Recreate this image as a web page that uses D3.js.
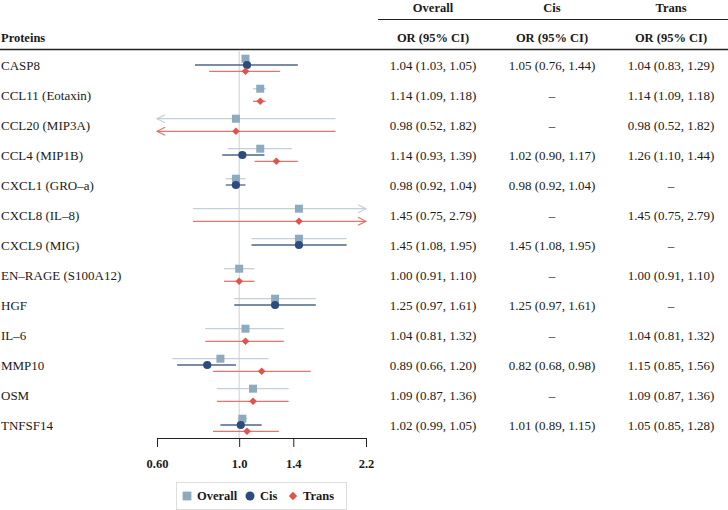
<!DOCTYPE html>
<html>
<head>
<meta charset="utf-8">
<script src="https://cdn.jsdelivr.net/npm/d3@7"></script>
<style>
  body { margin: 0; background: #fff; }
  text { font-family: "Liberation Serif", "DejaVu Serif", serif; fill: #1a1a1a; }
</style>
</head>
<body>
<div id="forest"></div>
<script>
let proteins = ["CASP8","CCL11 (Eotaxin)","CCL20 (MIP3A)","CCL4 (MIP1B)","CXCL1 (GRO\u2013a)",
  "CXCL8 (IL\u20138)","CXCL9 (MIG)","EN\u2013RAGE (S100A12)","HGF","IL\u20136","MMP10","OSM","TNFSF14"];

let overallOR = [1.04, 1.14, 0.98, 1.14, 0.98, 1.45, 1.45, 1.00, 1.25, 1.04, 0.89, 1.09, 1.02];
let overallLo = [1.03, 1.09, 0.52, 0.93, 0.92, 0.75, 1.08, 0.91, 0.97, 0.81, 0.66, 0.87, 0.99];
let overallHi = [1.05, 1.18, 1.82, 1.39, 1.04, 2.79, 1.95, 1.10, 1.61, 1.32, 1.20, 1.36, 1.05];

let cisOR = [1.05, null, null, 1.02, 0.98, null, 1.45, null, 1.25, null, 0.82, null, 1.01];
let cisLo = [0.76, null, null, 0.90, 0.92, null, 1.08, null, 0.97, null, 0.68, null, 0.89];
let cisHi = [1.44, null, null, 1.17, 1.04, null, 1.95, null, 1.61, null, 0.98, null, 1.15];

let transOR = [1.04, 1.14, 0.98, 1.26, null, 1.45, null, 1.00, null, 1.04, 1.15, 1.09, 1.05];
let transLo = [0.83, 1.09, 0.52, 1.10, null, 0.75, null, 0.91, null, 0.81, 0.85, 0.87, 0.85];
let transHi = [1.29, 1.18, 1.82, 1.44, null, 2.79, null, 1.10, null, 1.32, 1.56, 1.36, 1.28];

let tickValues = [0.60, 1.0, 1.4, 2.2];
let tickLabels = ["0.60", "1.0", "1.4", "2.2"];
let groups = ["Overall", "Cis", "Trans"];

let width = 728, height = 510;

let series = [
  {name: "Overall", or: overallOR, lo: overallLo, hi: overallHi, dy: -6.3, mark: "square", fill: "#8eaabf", line: "#c3cfd9"},
  {name: "Cis", or: cisOR, lo: cisLo, hi: cisHi, dy: 0, mark: "circle", fill: "#2d4b7e", line: "#4e6486"},
  {name: "Trans", or: transOR, lo: transLo, hi: transHi, dy: 6.3, mark: "diamond", fill: "#e0544b", line: "#e8736c"}
];

// draws a marker of the given kind centred on 0,0
function drawMark(sel, kind, scale) {
  if (kind == "square") {
    return sel.append("rect").attr("x", -4 * scale).attr("y", -4 * scale)
      .attr("width", 8 * scale).attr("height", 8 * scale);
  } else if (kind == "circle") {
    return sel.append("circle").attr("r", 4.1 * scale);
  }
  return sel.append("rect").attr("x", -2.7 * scale).attr("y", -2.7 * scale)
    .attr("width", 5.4 * scale).attr("height", 5.4 * scale)
    .attr("transform", "rotate(45)");
}

let x = d3.scaleLog()
  .domain([0.60, 2.2])
  .range([157, 366]);

let y = d3.scaleBand()
  .domain(proteins)
  .range([50, 440]);

let col = d3.scalePoint()
  .domain(groups)
  .range([433, 671]);

let fmt = d3.format(".2f");

let svg = d3.select("#forest").append("svg")
  .attr("width", width)
  .attr("height", height);

// header
svg.append("line")
  .attr("x1", 378).attr("x2", width)
  .attr("y1", 19.5).attr("y2", 19.5)
  .style("stroke", "#222").style("stroke-width", 1);

svg.append("line")
  .attr("x1", 0).attr("x2", width)
  .attr("y1", 49.5).attr("y2", 49.5)
  .style("stroke", "#222").style("stroke-width", 1.3);

svg.append("text")
  .attr("x", 1).attr("y", 42)
  .style("font-size", "12.5px").style("font-weight", "bold")
  .text("Proteins");

svg.selectAll(".grp")
  .data(groups)
  .enter()
  .append("text")
  .attr("x", d => col(d))
  .attr("y", 12)
  .attr("text-anchor", "middle")
  .style("font-size", "12.5px").style("font-weight", "bold")
  .text(d => d);

svg.selectAll(".orhead")
  .data(groups)
  .enter()
  .append("text")
  .attr("x", d => col(d))
  .attr("y", 42)
  .attr("text-anchor", "middle")
  .style("font-size", "12.5px").style("font-weight", "bold")
  .text("OR (95% CI)");

// reference line at 1
svg.append("line")
  .attr("x1", x(1)).attr("x2", x(1))
  .attr("y1", 50).attr("y2", 438)
  .style("stroke", "#cfcfcf").style("stroke-width", 1);

// protein labels
svg.selectAll(".prot")
  .data(proteins)
  .enter()
  .append("text")
  .attr("x", 1)
  .attr("y", d => y(d) + y.bandwidth() / 2 + 4.5)
  .style("font-size", "13px")
  .text(d => d);

// table values
series.forEach(s => {
  svg.selectAll(".val-" + s.name)
    .data(proteins)
    .enter()
    .append("text")
    .attr("x", col(s.name))
    .attr("y", d => y(d) + y.bandwidth() / 2 + 4.5)
    .attr("text-anchor", "middle")
    .style("font-size", "13px")
    .text((d, i) => s.or[i] == null ? "\u2013"
      : fmt(s.or[i]) + " (" + fmt(s.lo[i]) + ", " + fmt(s.hi[i]) + ")");
});

// arrow markers
series.forEach(s => {
  let defs = svg.append("defs");
  defs.append("marker")
    .attr("id", "arr-" + s.name)
    .attr("viewBox", "0 0 10 10")
    .attr("refX", 9).attr("refY", 5)
    .attr("markerWidth", 10).attr("markerHeight", 10)
    .attr("markerUnits", "userSpaceOnUse")
    .attr("orient", "auto-start-reverse")
    .append("path")
    .attr("d", "M1,1 L9,5 L1,9")
    .style("fill", "none")
    .style("stroke", s.line)
    .style("stroke-width", 1.2);
});

let [dMin, dMax] = x.domain();

series.forEach(s => {
  let rows = proteins.map((p, i) => ({p: p, or: s.or[i], lo: s.lo[i], hi: s.hi[i]}))
    .filter(d => d.or != null);

  svg.selectAll(".ci-" + s.name)
    .data(rows)
    .enter()
    .append("line")
    .attr("x1", d => x(Math.max(d.lo, dMin)))
    .attr("x2", d => x(Math.min(d.hi, dMax)))
    .attr("y1", d => y(d.p) + y.bandwidth() / 2 + s.dy)
    .attr("y2", d => y(d.p) + y.bandwidth() / 2 + s.dy)
    .attr("marker-start", d => d.lo < dMin ? "url(#arr-" + s.name + ")" : null)
    .attr("marker-end", d => d.hi > dMax ? "url(#arr-" + s.name + ")" : null)
    .style("stroke", s.line)
    .style("stroke-width", 1.3);

  svg.selectAll(".pt-" + s.name)
    .data(rows)
    .enter()
    .append("g")
    .attr("transform", d => "translate(" + x(d.or) + "," + (y(d.p) + y.bandwidth() / 2 + s.dy) + ")")
    .each(function() {
      drawMark(d3.select(this), s.mark, 1).style("fill", s.fill);
    });
});

// axis: line on top, ticks hanging down
let axis = d3.axisBottom(x)
  .tickValues(tickValues)
  .tickFormat((d, i) => tickLabels[i])
  .tickSize(9)
  .tickSizeOuter(0);

let gx = svg.append("g")
  .attr("transform", "translate(0,438)")
  .call(axis)
  .classed("xaxis", true);

gx.select(".domain").style("stroke", "#222");
gx.selectAll(".tick line").style("stroke", "#222");
gx.selectAll(".tick text")
  .attr("y", 21)
  .style("font-size", "12.5px")
  .style("font-weight", "bold")
  .style("font-family", "Liberation Serif, serif")
  .style("fill", "#1a1a1a");

// legend
let legend = svg.append("g").attr("transform", "translate(176,482)");
legend.append("rect")
  .attr("x", 0.5).attr("y", 0.5)
  .attr("width", 170).attr("height", 27)
  .style("fill", "#fff").style("stroke", "#ddd");

let legendX = [11, 74, 117];
series.forEach((s, i) => {
  let g = legend.append("g").attr("transform", "translate(" + legendX[i] + ",14)");
  drawMark(g, s.mark, 1.1).style("fill", s.fill);
  legend.append("text")
    .attr("x", legendX[i] + 10)
    .attr("y", 18)
    .style("font-size", "12.5px")
    .style("font-weight", "bold")
    .text(s.name);
});
</script>
</body>
</html>
